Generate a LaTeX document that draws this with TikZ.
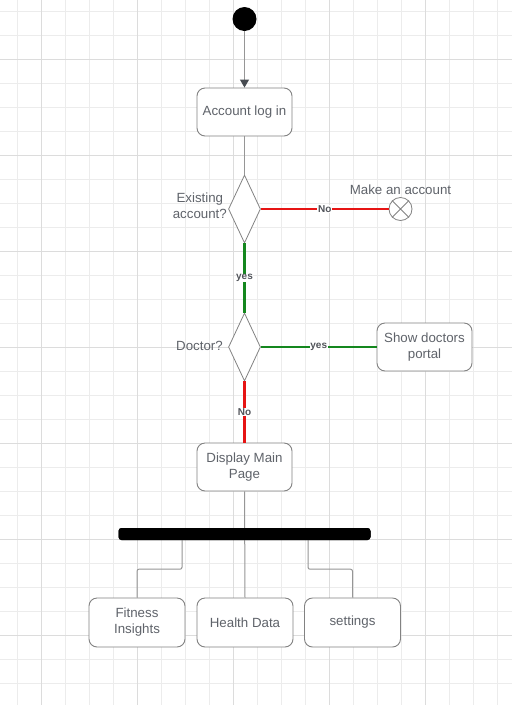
\documentclass[tikz,border=0pt]{standalone}
\usepackage{fontspec}
\setmainfont{Liberation Sans}
\usetikzlibrary{shapes.geometric,arrows.meta}
\definecolor{txt}{RGB}{95,99,106}
\definecolor{edge}{RGB}{130,130,130}
\definecolor{conn}{RGB}{150,150,150}
\definecolor{arrowc}{RGB}{70,74,80}
\definecolor{gmin}{RGB}{236,236,236}
\definecolor{gmaj}{RGB}{220,220,220}
\definecolor{rline}{RGB}{230,20,20}
\definecolor{gline}{RGB}{20,135,30}
\begin{document}
\begin{tikzpicture}[x=1pt,y=-1pt,
  every node/.style={text=txt,font=\fontsize{13.3}{16}\selectfont},
  boxnode/.style={draw=edge,line width=0.9pt,rounded corners=8pt,fill=white,minimum width=95pt,minimum height=48pt,align=center,inner sep=1pt},
  decide/.style={diamond,draw=edge,line width=0.8pt,fill=white,minimum width=32pt,minimum height=68pt,inner sep=0pt},
  conn/.style={draw=conn,line width=1pt},
  redl/.style={draw=rline,line width=2.2pt},
  greenl/.style={draw=gline,line width=2.2pt},
  lbl/.style={font=\fontsize{10}{12}\selectfont\bfseries,text=txt!85!black,fill=white,inner sep=0.6pt},
  side/.style={align=center,inner sep=0pt}
]
\useasboundingbox (0,0) rectangle (512,705);
\fill[white] (0,0) rectangle (512,705);
% grid
\foreach \i in {0,...,20} {\draw[gmin,line width=0.8pt] (17+24*\i,0) -- (17+24*\i,705);}
\foreach \i in {0,...,28} {\draw[gmin,line width=0.8pt] (0,11.5+24*\i) -- (512,11.5+24*\i);}
\foreach \i in {0,...,4} {\draw[gmaj,line width=0.9pt] (41+96*\i,0) -- (41+96*\i,705);}
\foreach \i in {0,...,6} {\draw[gmaj,line width=0.9pt] (0,59.5+96*\i) -- (512,59.5+96*\i);}

% nodes
\node[circle,fill=black,minimum size=24pt,inner sep=0pt] (start) at (244.5,19) {};
\node[boxnode] (login) at (244.5,112) {Account log in};
\node[decide] (d1) at (244.5,209) {};
\node[side,anchor=east] (d1l) at (227,206) {Existing\\account?};
\node[circle,draw=edge,line width=0.8pt,minimum size=23pt,inner sep=0pt,fill=white] (endn) at (400.5,209) {};
\node (endl) at (400.5,190) {Make an account};
\node[decide] (d2) at (244.5,347) {};
\node[side,anchor=east] (d2l) at (223,346) {Doctor?};
\node[boxnode] (doc) at (424.5,347) {Show doctors\\portal};
\node[boxnode] (main) at (244.5,467) {Display Main\\Page};
\node[fill=black,rounded corners=3pt,minimum width=252pt,minimum height=12pt,inner sep=0pt] (bar) at (244.5,534) {};
\node[boxnode,minimum height=49pt,minimum width=96pt] (fit) at (137,622.5) {Fitness\\Insights};
\node[boxnode,minimum height=49pt,minimum width=96pt] (health) at (245,622.5) {Health Data};
\node[boxnode,minimum height=49pt,minimum width=96pt] (sett) at (352.5,622.5) {settings};

% connectors
\draw[conn,-{Triangle[width=9pt,length=8pt,fill=arrowc,color=arrowc]}] (start) -- (login.north);
\draw[conn] (login.south) -- (d1.north);
\draw[redl] (d1.east) -- node[lbl] {No} (endn.west);
\draw[edge,line width=0.8pt] (endn.45) -- (endn.225) (endn.135) -- (endn.315);
\draw[greenl] (d1.south) -- node[lbl] {yes} (d2.north);
\draw[greenl] (d2.east) -- node[lbl,pos=0.5] {yes} (doc.west);
\draw[redl] (d2.south) -- node[lbl] {No} (main.north);
\draw[conn] (main.south) -- (health.north);
\draw[conn,rounded corners=2pt] ([xshift=-62.5pt]bar.south) -- ++(0,29) -| (fit.north);
\draw[conn,rounded corners=2pt] ([xshift=63.5pt]bar.south) -- ++(0,29) -| (sett.north);
\node[fill=black,rounded corners=3pt,minimum width=252pt,minimum height=12pt,inner sep=0pt] at (bar) {};
\end{tikzpicture}
\end{document}
